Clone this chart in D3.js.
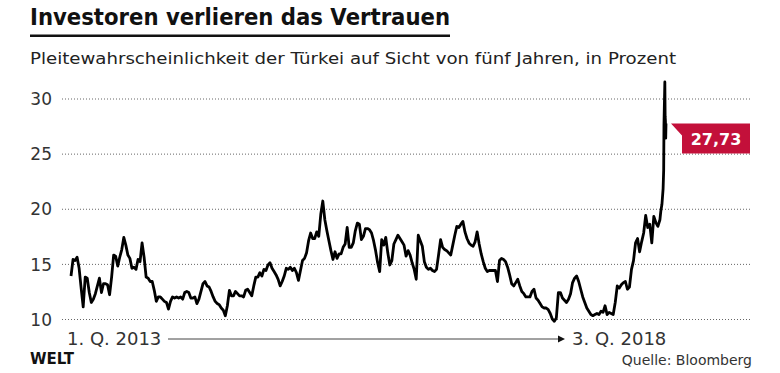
<!DOCTYPE html>
<html>
<head>
<meta charset="utf-8">
<script src="https://d3js.org/d3.v7.min.js"></script>
<style>
  body { margin: 0; background: #fff; }
  text { font-family: "DejaVu Sans", sans-serif; }
</style>
</head>
<body>
<div id="chart"></div>
<script>
  // weekly readings from first week of 2013, then daily values of the August 2018 spike
  var startDate = "2013-01-04";
  var weeklyValues = [
    13.9, 15.4, 15.3, 15.6, 14.6, 12.8, 11.1, 13.8, 13.7, 12.4,
    11.5, 11.8, 12.3, 13.0, 13.7, 12.4, 13.2, 13.2, 13.1, 12.2,
    13.8, 15.8, 15.7, 14.8, 15.6, 16.3, 17.4, 16.7, 15.8, 15.5,
    14.6, 14.7, 14.5, 15.4, 15.2, 16.9, 15.6, 13.8, 13.7, 13.4,
    13.4, 12.6, 11.6, 12.0, 12.0, 11.8, 11.6, 11.5, 10.9, 11.6,
    12.0, 11.9, 12.0, 11.9, 12.0, 11.8, 12.4, 12.5, 12.4, 11.9,
    11.9, 12.0, 11.4, 11.8, 12.5, 13.2, 13.4, 13.0, 12.9, 12.5,
    12.0, 11.6, 11.4, 11.3, 11.0, 10.8, 10.3, 11.2, 12.6, 12.1,
    12.1, 12.5, 12.3, 12.1, 12.1, 12.0, 12.6, 12.7, 12.4, 12.1,
    13.0, 13.8, 13.8, 14.2, 13.9, 14.5, 14.4, 14.9, 15.1,
    14.6, 14.3, 14.0, 13.6, 13.0, 13.4, 13.9, 14.6, 14.5, 14.7, 14.4,
    14.6, 14.2, 13.5, 14.4, 15.3, 15.5, 16.0, 17.1, 17.8, 17.3,
    17.3, 17.9, 17.5, 19.5, 20.7, 19.0, 18.0, 17.1, 16.2, 15.4,
    16.1, 15.5, 15.9, 15.9, 16.5, 16.8, 18.3, 16.5, 16.5, 16.9,
    18.0, 18.7, 18.6, 17.2, 17.5, 18.2, 18.2, 18.1,
    17.8, 17.1, 16.2, 15.1, 14.3, 17.2, 16.7, 17.4, 16.0, 14.9,
    15.3, 16.8, 17.2, 17.6, 17.3, 17.0, 16.7, 15.7, 16.2, 15.8,
    15.1, 14.5, 13.6, 17.6, 17.1, 16.6, 15.2, 14.7, 14.5, 14.6,
    14.4, 14.3, 14.5, 15.8, 17.2, 16.5, 16.3, 16.2, 16.0, 15.8,
    16.7, 17.6, 18.4, 18.3, 18.6, 18.85, 17.9, 17.3, 16.9,
    16.7, 16.6, 17.0, 17.9, 16.8, 15.9, 15.2, 14.6, 14.3, 14.4,
    14.4, 14.4, 14.4, 13.4, 15.3, 15.5, 15.4, 15.2, 14.7, 14.0,
    13.2, 13.0, 13.3, 13.6, 13.0, 12.5, 12.3, 12.0, 12.0, 12.0,
    12.5, 12.7, 11.9, 11.7, 11.4, 11.1, 11.0, 11.0, 10.85, 10.5,
    10.0, 9.8, 10.1, 12.4, 12.4, 11.9, 11.7, 11.5, 11.8,
    12.3, 13.3, 13.7, 13.9, 13.4, 12.7, 12.0, 11.5, 11.0, 10.7,
    10.4, 10.3, 10.4, 10.5, 10.4, 10.7, 10.6, 11.2, 10.4, 10.6,
    10.5, 10.4, 11.5, 13.0, 12.8, 13.1, 13.3, 13.4, 12.7, 12.9,
    14.5, 15.3, 16.9, 17.3, 16.1, 17.0, 17.8, 19.4, 18.3, 18.6,
    16.9, 19.3, 18.75, 18.4, 19.0
  ];
  var finalDays = ["2018-07-30", "2018-08-03", "2018-08-07", "2018-08-09", "2018-08-10",
                   "2018-08-13", "2018-08-14", "2018-08-15", "2018-08-16", "2018-08-17"];
  var finalValues = [19.75, 20.4, 21.8, 23.5, 27.6, 31.5, 28.4, 28.0, 26.4, 27.73];

  var yTicks = [10, 15, 20, 25, 30];
  var periodLabels = ["1. Q. 2013", "3. Q. 2018"];
  var title = "Investoren verlieren das Vertrauen";
  var subtitle = "Pleitewahrscheinlichkeit der Türkei auf Sicht von fünf Jahren, in Prozent";
  var source = "Quelle: Bloomberg";

  var width = 780, height = 373;
  var margin = {top: 98.5, right: 114, bottom: 53.5, left: 71};
  var red = "#c3103a";

  var parse = d3.timeParse("%Y-%m-%d");
  var start = parse(startDate);
  var data = weeklyValues.map(function(v, i) {
    return { date: d3.timeDay.offset(start, 7 * i), value: v };
  });
  finalDays.forEach(function(d, i) {
    data.push({ date: parse(d), value: finalValues[i] });
  });
  var last = data[data.length - 1];

  var svg = d3.select("#chart")
    .append("svg")
      .attr("width", width)
      .attr("height", height);

  var x = d3.scaleTime()
    .domain([data[0].date, last.date])
    .range([margin.left, width - margin.right]);

  var y = d3.scaleLinear()
    .domain([10, 30])
    .range([height - margin.bottom - 0.5, margin.top]);

  // header
  svg.append("text")
    .attr("x", 30).attr("y", 25)
    .attr("font-family", "'Open Sans', sans-serif")
    .attr("font-size", 23).attr("font-weight", 700)
    .attr("textLength", 420).attr("lengthAdjust", "spacingAndGlyphs")
    .attr("fill", "#111")
    .text(title);
  svg.append("rect")
    .attr("x", 30).attr("y", 34.5)
    .attr("width", 420).attr("height", 2.5)
    .attr("fill", "#111");
  svg.append("text")
    .attr("x", 30).attr("y", 64)
    .attr("font-size", 16)
    .attr("textLength", 646).attr("lengthAdjust", "spacingAndGlyphs")
    .attr("fill", "#222")
    .text(subtitle);

  // y axis with dotted grid
  var yAxis = svg.append("g")
    .attr("transform", "translate(62,0)")
    .call(d3.axisLeft(y).tickValues(yTicks).tickSize(-690).tickPadding(10));
  yAxis.select(".domain").remove();
  yAxis.selectAll(".tick line")
    .attr("stroke", "#666")
    .attr("stroke-dasharray", "1,2");
  yAxis.selectAll(".tick text")
    .attr("font-family", "'DejaVu Sans', sans-serif")
    .attr("font-size", 17)
    .attr("fill", "#333")
    .attr("dy", "0.36em");

  // line
  svg.append("path")
    .datum(data)
    .attr("fill", "none")
    .attr("stroke", "#000")
    .attr("stroke-width", 2.8)
    .attr("stroke-linejoin", "round")
    .attr("d", d3.line()
      .x(function(d) { return x(d.date) })
      .y(function(d) { return y(d.value) })
    );

  // value label for the last point
  var de = d3.formatLocale({ decimal: ",", thousands: ".", grouping: [3], currency: ["", " €"] });
  var lx = x(last.date) + 5, ly = y(last.value);
  svg.append("path")
    .attr("fill", red)
    .attr("d", "M" + lx + "," + ly + "H750V" + (ly + 30) + "H" + (lx + 11) + "V" + (ly + 12) + "Z");
  svg.append("text")
    .attr("x", (lx + 11 + 750) / 2).attr("y", ly + 21.5)
    .attr("text-anchor", "middle")
    .attr("font-size", 16).attr("font-weight", 700)
    .attr("fill", "#fff")
    .text(de.format(".2f")(last.value));

  // period arrow
  var axisY = 345;
  svg.append("text")
    .attr("x", 67).attr("y", axisY)
    .attr("font-size", 18).attr("fill", "#333")
    .text(periodLabels[0]);
  svg.append("line")
    .attr("x1", 168).attr("x2", 560)
    .attr("y1", axisY - 6).attr("y2", axisY - 6)
    .attr("stroke", "#444").attr("stroke-width", 1);
  svg.append("path")
    .attr("fill", "#111")
    .attr("d", "M558," + (axisY - 9.5) + "L565," + (axisY - 6) + "L558," + (axisY - 2.5) + "Z");
  svg.append("text")
    .attr("x", 572).attr("y", axisY)
    .attr("font-size", 18).attr("fill", "#333")
    .text(periodLabels[1]);

  // footer
  svg.append("text")
    .attr("x", 30).attr("y", 364)
    .attr("font-family", "'Open Sans', sans-serif")
    .attr("font-size", 15).attr("font-weight", 800)
    .attr("fill", "#111")
    .text("WELT");
  svg.append("text")
    .attr("x", 752).attr("y", 365)
    .attr("text-anchor", "end")
    .attr("font-size", 14).attr("fill", "#333")
    .text(source);
</script>
</body>
</html>
